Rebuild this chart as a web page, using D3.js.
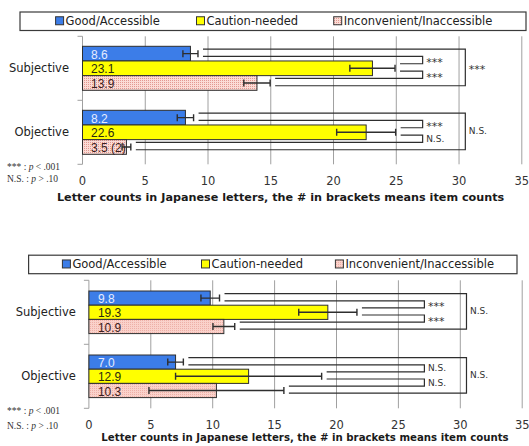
<!DOCTYPE html>
<html>
<head>
<meta charset="utf-8">
<script src="https://cdn.jsdelivr.net/npm/d3@7/dist/d3.min.js"></script>
<style>
  html, body { margin: 0; padding: 0; background: #fff; }
  svg { display: block; }
</style>
</head>
<body>
<svg id="chart" width="529" height="446"></svg>
<script>
// ---- data ----
const categories = ["Subjective", "Objective"];
const seriesNames = ["Good/Accessible", "Caution-needed", "Inconvenient/Inaccessible"];
const xTicks = [0, 5, 10, 15, 20, 25, 30, 35];
const axisTitle = "Letter counts in Japanese letters, the # in brackets means item counts";
const noteLines = [["*** : ", "p", " < .001"], ["N.S. : ", "p", " > .10"]];

// upper panel: means, error half-widths, item counts shown in brackets
const upperMeans  = [[8.6, 23.1, 13.9], [8.2, 22.6, 3.5]];
const upperErrors = [[0.6, 1.8, 1.05], [0.65, 2.35, 0.35]];
const upperCounts = [[null, null, null], [null, null, 2]];
// significance: [good vs caution, caution vs inconvenient, good vs inconvenient]
const upperSig    = [["***", "***", "***"], ["***", "N.S.", "N.S."]];

// lower panel
const lowerMeans  = [[9.8, 19.3, 10.9], [7.0, 12.9, 10.3]];
const lowerErrors = [[0.75, 2.35, 0.88], [0.63, 5.9, 5.45]];
const lowerCounts = [[null, null, null], [null, null, null]];
const lowerSig    = [["***", "***", "N.S."], ["N.S.", "N.S.", "N.S."]];

// bracket right edges, in axis units
const innerBracketAt = 27.1;
const outerBracketAt = 30.5;

// ---- styling ----
const fills = ["#3c7de8", "#ffff00", null];
const labelColors = ["#e6ecff", "#2a2a10", "#3a2020"];
const FONT = "'DejaVu Sans', 'Noto Sans', sans-serif";
const NUMFONT = "'Liberation Sans', Arial, sans-serif";
const SERIF = "'Liberation Serif', 'DejaVu Serif', serif";

const svg = d3.select("#chart");
const defs = svg.append("defs");

// dotted fill for the third series
function makePattern(id, bg, dot) {
  const p = defs.append("pattern").attr("id", id)
    .attr("patternUnits", "userSpaceOnUse").attr("width", 2).attr("height", 2);
  p.append("rect").attr("width", 2).attr("height", 2).attr("fill", bg);
  p.append("rect").attr("width", 1).attr("height", 1).attr("fill", dot);
}
makePattern("patUpper", "#fbdcd6", "#e39891");
makePattern("patLower", "#fad2cb", "#eeb0a8");

function drawPanel(cfg, means, errors, counts, sig) {
  const g = svg.append("g");
  const x = d3.scaleLinear().domain([0, 35]).range([cfg.x0, cfg.x1]);
  const y = d3.scaleBand().domain(categories).range([cfg.y0, cfg.y1]);
  const ys = d3.scaleBand().domain(d3.range(seriesNames.length))
    .range([cfg.barInset, y.bandwidth() - cfg.barInset]);
  const bh = ys.bandwidth();
  const fillOf = i => (i === 2 ? `url(#${cfg.pat})` : fills[i]);

  // legend
  const L = cfg.legend;
  g.append("rect").attr("x", L.x).attr("y", L.y).attr("width", L.w).attr("height", L.h)
    .attr("fill", "#fff").attr("stroke", "#3a3a3a").attr("stroke-width", 1.2);
  seriesNames.forEach((name, i) => {
    const cy = L.y + L.h / 2;
    g.append("rect").attr("x", L.items[i]).attr("y", cy - 4.5).attr("width", 8).attr("height", 8)
      .attr("fill", fillOf(i)).attr("stroke", "#333").attr("stroke-width", 1);
    g.append("text").attr("x", L.items[i] + 10).attr("y", cy)
      .attr("dominant-baseline", "central")
      .attr("font-family", FONT).attr("font-size", cfg.legendSize).attr("fill", "#222")
      .text(name);
  });

  // gridlines
  g.append("g").selectAll("line").data(xTicks.slice(1)).join("line")
    .attr("x1", d => x(d)).attr("x2", d => x(d))
    .attr("y1", cfg.y0).attr("y2", cfg.y1)
    .attr("stroke", "#a0a0a0").attr("stroke-width", 1);

  // y axis with category-boundary ticks
  const bounds = [cfg.y0, ...categories.map(c => y(c) + y.bandwidth())];
  g.append("line").attr("x1", x(0)).attr("x2", x(0)).attr("y1", cfg.y0).attr("y2", cfg.y1)
    .attr("stroke", "#a0a0a0").attr("stroke-width", 1);
  g.append("g").selectAll("line").data(bounds).join("line")
    .attr("x1", x(0) - 5).attr("x2", x(0)).attr("y1", d => d).attr("y2", d => d)
    .attr("stroke", "#a0a0a0").attr("stroke-width", 1);

  // x tick labels
  g.append("g").selectAll("text").data(xTicks).join("text")
    .attr("x", d => x(d)).attr("y", cfg.y1 + cfg.tickDy)
    .attr("text-anchor", "middle").attr("dominant-baseline", "central")
    .attr("font-family", FONT).attr("font-size", cfg.tickSize).attr("fill", "#333")
    .text(d => d);

  // category labels
  g.append("g").selectAll("text").data(categories).join("text")
    .attr("x", cfg.catX).attr("y", d => y(d) + y.bandwidth() / 2)
    .attr("text-anchor", "end").attr("dominant-baseline", "central")
    .attr("font-family", FONT).attr("font-size", cfg.catSize).attr("fill", "#222")
    .text(d => d);

  // axis title
  g.append("text").attr("x", cfg.titleX).attr("y", cfg.titleY)
    .attr("text-anchor", "middle").attr("dominant-baseline", "central")
    .attr("font-family", FONT).attr("font-size", cfg.titleSize).attr("font-weight", "bold")
    .attr("fill", "#1a1a1a").text(axisTitle);

  // p-value notes
  noteLines.forEach((parts, k) => {
    const t = g.append("text").attr("x", 7).attr("y", cfg.noteY[k])
      .attr("dominant-baseline", "central")
      .attr("font-family", SERIF).attr("font-size", 9.5).attr("fill", "#333")
      .attr("xml:space", "preserve");
    parts.forEach((s, j) => t.append("tspan").attr("font-style", j === 1 ? "italic" : "normal").text(s));
  });

  categories.forEach((cat, ci) => {
    const top = i => y(cat) + ys(i);
    const cy = i => top(i) + bh / 2;

    // bars
    means[ci].forEach((v, i) => {
      g.append("rect").attr("x", x(0)).attr("y", top(i))
        .attr("width", x(v) - x(0)).attr("height", bh)
        .attr("fill", fillOf(i))
        .attr("stroke", "#2e2e2e").attr("stroke-width", 1);
    });

    // value labels
    means[ci].forEach((v, i) => {
      const c = counts[ci][i];
      g.append("text").attr("x", x(0) + cfg.labelDx).attr("y", cy(i) + 1)
        .attr("dominant-baseline", "central")
        .attr("font-family", NUMFONT).attr("font-size", cfg.valueSize).attr("fill", labelColors[i])
        .text(d3.format(".1f")(v) + (c != null ? ` (${c})` : ""));
    });

    // error bars
    means[ci].forEach((v, i) => {
      const e = errors[ci][i];
      const xa = x(v - e), xb = x(v + e), yy = cy(i);
      g.append("path")
        .attr("d", `M${xa},${yy}H${xb}M${xa},${yy - 3.5}V${yy + 3.5}M${xb},${yy - 3.5}V${yy + 3.5}`)
        .attr("stroke", "#2e2e2e").attr("stroke-width", 1.4).attr("fill", "none");
    });

    // significance brackets
    const startX = i => x(means[ci][i] + errors[ci][i]) + 5;
    const upperLine = i => top(i) + bh * 0.19;
    const lowerLine = i => top(i) + bh * 0.69;
    const pairs = [
      { a: 0, ya: lowerLine(0), b: 1, yb: upperLine(1), at: innerBracketAt, s: sig[ci][0] },
      { a: 1, ya: lowerLine(1), b: 2, yb: upperLine(2), at: innerBracketAt, s: sig[ci][1] },
      { a: 0, ya: upperLine(0), b: 2, yb: lowerLine(2), at: outerBracketAt, s: sig[ci][2] }
    ];
    pairs.forEach(p => {
      const R = x(p.at);
      g.append("path")
        .attr("d", `M${startX(p.a)},${p.ya}H${R}V${p.yb}H${startX(p.b)}`)
        .attr("stroke", "#2e2e2e").attr("stroke-width", 1.2).attr("fill", "none");
      const stars = p.s === "***";
      g.append("text").attr("x", R + 3.5).attr("y", (p.ya + p.yb) / 2 + (stars ? 2.5 : 0))
        .attr("dominant-baseline", "central")
        .attr("font-family", FONT)
        .attr("font-size", stars ? 11 : 9).attr("fill", "#333")
        .text(p.s);
    });
  });
}

drawPanel({
  pat: "patUpper",
  legend: { x: 20, y: 12, w: 506, h: 18.5, items: [55.6, 196.5, 333.7] },
  legendSize: 11.5,
  x0: 82.5, x1: 521.8, y0: 36.3, y1: 164.3, barInset: 10,
  tickDy: 17, tickSize: 11.5, catX: 69, catSize: 11.5,
  titleX: 280.6, titleY: 197, titleSize: 11.2,
  noteY: [166.7, 178.5], labelDx: 8.5, valueSize: 12
}, upperMeans, upperErrors, upperCounts, upperSig);

drawPanel({
  pat: "patLower",
  legend: { x: 28.6, y: 255.2, w: 488.4, h: 18.5, items: [62.4, 201.5, 335.4] },
  legendSize: 11.5,
  x0: 88.9, x1: 522.2, y0: 280.3, y1: 408.3, barInset: 10.7,
  tickDy: 16.5, tickSize: 11.5, catX: 75.8, catSize: 11.5,
  titleX: 305, titleY: 437.5, titleSize: 10.2,
  noteY: [410.8, 426], labelDx: 9, valueSize: 12
}, lowerMeans, lowerErrors, lowerCounts, lowerSig);
</script>
</body>
</html>
